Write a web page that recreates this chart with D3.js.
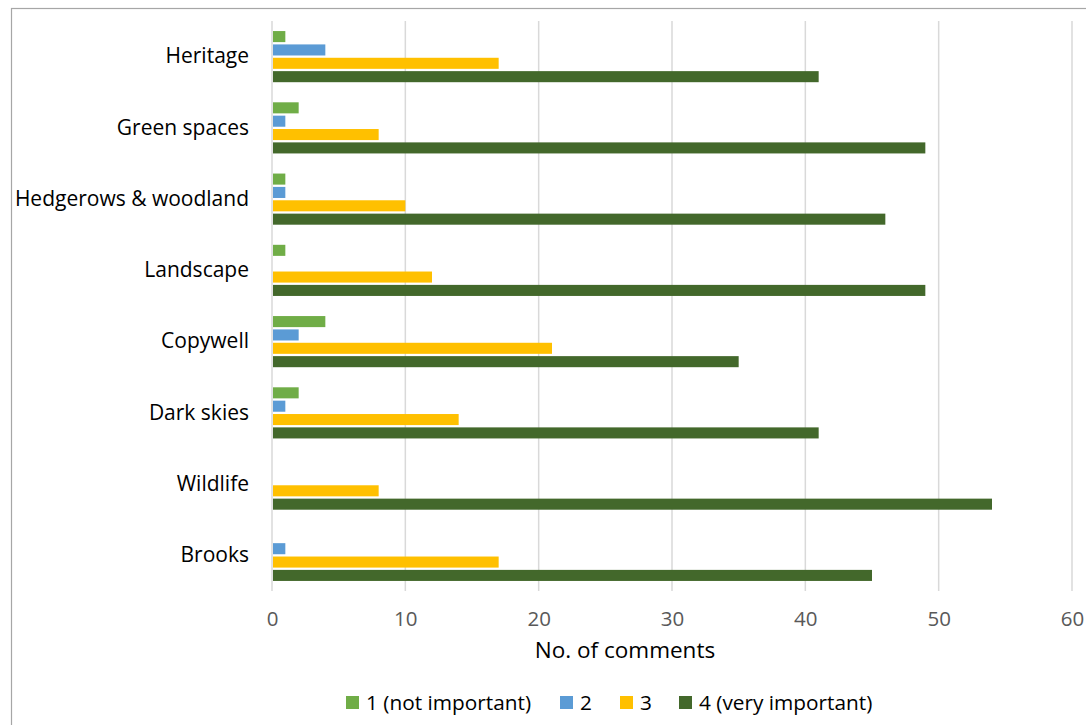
<!DOCTYPE html>
<html><head><meta charset="utf-8">
<script src="https://cdn.jsdelivr.net/npm/d3@7"></script>
<style>body{margin:0;background:#fff;} svg{display:block;}</style>
</head><body>
<svg id="chart" width="1086" height="725"></svg>
<script>
const categories = ["Heritage","Green spaces","Hedgerows & woodland","Landscape","Copywell","Dark skies","Wildlife","Brooks"];
const seriesNames = ["1 (not important)","2","3","4 (very important)"];
const seriesColors = ["#70AD47","#5B9BD5","#FFC000","#43682B"];
const s1 = [1,2,1,1,4,2,0,0];
const s2 = [4,1,1,0,2,1,0,1];
const s3 = [17,8,10,12,21,14,8,17];
const s4 = [41,49,46,49,35,41,54,45];
const xTicks = [0,10,20,30,40,50,60];
const seriesValues = [s1,s2,s3,s4];

const svg = d3.select("#chart");
const font = "'Open Sans', sans-serif";

// outer frame
svg.append("rect").attr("x",11.5).attr("y",8.5).attr("width",1090).attr("height",730)
  .attr("fill","none").attr("stroke","#A6A6A6").attr("stroke-width",1.2);

const x = d3.scaleLinear().domain([0,60]).range([272,1072]);
const y = d3.scaleBand().domain(categories).range([21,591]).paddingInner(0.25).paddingOuter(0.125);
const ys = d3.scaleBand().domain(d3.range(4)).range([0,y.bandwidth()]);

// gridlines
svg.append("g").selectAll("line").data(xTicks).join("line")
  .attr("x1",d=>x(d)).attr("x2",d=>x(d)).attr("y1",21).attr("y2",591)
  .attr("stroke","#D9D9D9").attr("stroke-width",1.5);

// bars
const gap = 2.3;
const groups = svg.append("g").selectAll("g").data(categories).join("g")
  .attr("transform",c=>`translate(0,${y(c)})`);
groups.selectAll("rect").data((c,i)=>seriesValues.map((s,j)=>({j,v:s[i]}))).join("rect")
  .attr("x",x(0)+1).attr("y",d=>ys(d.j)+gap/2)
  .attr("width",d=>d.v>0?x(d.v)-x(0)-1:0).attr("height",ys.bandwidth()-gap)
  .attr("fill",d=>seriesColors[d.j]);

// category labels
svg.append("g").selectAll("text").data(categories).join("text")
  .attr("x",249).attr("y",c=>y(c)+y.bandwidth()/2-0.5).attr("dy","0.35em")
  .attr("text-anchor","end").attr("font-family",font).attr("font-size",21)
  .attr("fill","#000").text(c=>c);

// x tick labels
const xAxis = d3.axisBottom(x).tickValues(xTicks).tickSize(0).tickPadding(0);
const gx = svg.append("g").attr("transform","translate(0,611)").call(xAxis);
gx.select(".domain").remove();
gx.selectAll("text").attr("font-family",font).attr("font-size",20.5).attr("fill","#595959").attr("dy","0.71em");

// axis title
svg.append("text").attr("x",625).attr("y",650).attr("dy","0.35em").attr("text-anchor","middle")
  .attr("font-family",font).attr("font-size",22.5).attr("fill","#000").text("No. of comments");

// legend
const legX = [346,560,620,679];
const leg = svg.append("g").selectAll("g").data(seriesNames).join("g")
  .attr("transform",(d,i)=>`translate(${legX[i]},703)`);
leg.append("rect").attr("x",0).attr("y",-7).attr("width",13).attr("height",13).attr("fill",(d,i)=>seriesColors[i]);
leg.append("text").attr("x",20).attr("y",0).attr("dy","0.35em").attr("font-family",font)
  .attr("font-size",20.8).attr("fill","#000").text(d=>d);
</script>
</body></html>
